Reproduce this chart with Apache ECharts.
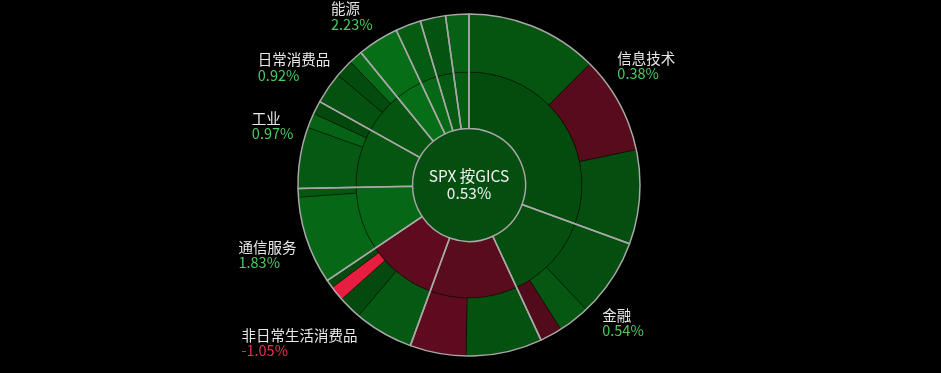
<!DOCTYPE html>
<html>
<head>
<meta charset="utf-8">
<script src="https://cdn.jsdelivr.net/npm/echarts@6/dist/echarts.min.js"></script>
<style>
  html, body { margin: 0; padding: 0; background: #000; }
  #chart { width: 941px; height: 373px; }
</style>
</head>
<body>
<div id="chart"></div>
<script>
// Index level
const indexName = 'SPX 按GICS';
const indexChange = 0.53;

// GICS sectors, clockwise from 12 o'clock, with daily change (%)
const sectorNames = ['信息技术', '金融', '医疗保健', '非日常生活消费品', '通信服务', '工业', '日常消费品', '能源', '公用事业', '房地产', '原材料'];
const sectorChanges = [0.38, 0.54, -0.95, -1.05, 1.83, 0.97, 0.92, 2.23, 1.9, 1.1, 1.2];

// Industry groups (outer ring): owning sector, name, index weight (%), daily change (%)
const groupSector = [0, 0, 0, 1, 1, 1, 2, 2, 3, 3, 3, 3, 4, 4, 5, 5, 5, 6, 6, 6, 7, 8, 9, 10];
const groupNames = [
  '软件与服务', '半导体产品与设备', '技术硬件与设备',
  '金融服务', '银行', '保险',
  '制药、生物科技和生命科学', '医疗保健设备与服务',
  '非日常消费品经销与零售', '消费者服务', '汽车与汽车零部件', '耐用消费品和服装',
  '媒体与娱乐', '电信服务',
  '资本品', '运输', '商业和专业服务',
  '食品、饮料与烟草', '家庭与个人用品', '日常消费品经销与零售',
  '能源', '公用事业', '房地产', '原材料'
];
const groupWeights = [12.5, 9.2, 8.9, 7.4, 3.0, 2.1, 7.2, 5.3, 5.6, 2.2, 1.4, 0.8, 8.3, 0.8, 5.8, 1.4, 1.25, 3.0, 1.7, 1.3, 3.9, 2.4, 2.4, 2.2];
const groupChanges = [0.9, -0.9, 0.5, 0.5, 1.0, -0.8, 0.7, -1.05, 1.1, 0.3, -4.0, 0.3, 1.9, 1.0, 1.1, 1.6, 0.25, 0.7, 0.35, 2.0, 2.2, 1.2, 0.8, 1.5];

// Layout
const CX = 469, CY = 185;
const R_CORE = 56.5, R_MID = 113, R_OUT = 171;
const LABEL_R = 181, LABEL_H = 31, LABEL_GAP = 20;
const FONT = "'Noto Sans CJK SC', 'Noto Sans', sans-serif";

// Heat scale: dark green -> bright green for gains, dark red -> bright red for losses
function changeColor(c) {
  const lerp = (a, b, t) => a.map((v, i) => Math.round(v + (b[i] - v) * t));
  const rgb = c >= 0
    ? lerp([3, 68, 12], [8, 125, 28], Math.min(c / 3, 1))
    : lerp([45, 6, 16], [232, 30, 64], Math.min(-c / 4, 1));
  return 'rgb(' + rgb.join(',') + ')';
}
const pct = c => c.toFixed(2) + '%';

const sectorWeights = sectorNames.map((_, s) =>
  groupWeights.reduce((acc, w, i) => acc + (groupSector[i] === s ? w : 0), 0));

// Outside labels: anchored at each sector's mid angle, pushed apart when stacked
function layoutLabels(height) {
  const total = sectorWeights.reduce((a, b) => a + b, 0);
  let acc = 0;
  const boxes = sectorWeights.map(w => {
    const a = (acc + w / 2) / total * 2 * Math.PI;
    acc += w;
    const b = {
      x: CX + LABEL_R * Math.sin(a),
      y: CY - LABEL_R * Math.cos(a),
      right: Math.sin(a) >= 0,
      upper: Math.cos(a) > 0
    };
    const top = b.upper ? b.y - LABEL_H : b.y;
    b.show = top >= -6 && top + LABEL_H <= height + 6;
    return b;
  });
  [true, false].forEach(right => {
    const ups = boxes.filter(b => b.show && b.upper && b.right === right).sort((p, q) => p.y - q.y);
    for (let i = 1; i < ups.length; i++) {
      const minY = ups[i - 1].y + LABEL_GAP + LABEL_H;
      if (ups[i].y < minY) ups[i].y = minY;
    }
    const downs = boxes.filter(b => b.show && !b.upper && b.right === right).sort((p, q) => q.y - p.y);
    for (let i = 1; i < downs.length; i++) {
      const maxY = downs[i - 1].y - LABEL_GAP - LABEL_H;
      if (downs[i].y > maxY) downs[i].y = maxY;
    }
  });
  return boxes;
}

const chart = echarts.init(document.getElementById('chart'), null, { renderer: 'canvas' });
const boxes = layoutLabels(chart.getHeight());

const sunData = [{
  name: indexName,
  itemStyle: { color: changeColor(indexChange) },
  children: sectorNames.map((name, s) => ({
    name: name,
    itemStyle: { color: changeColor(sectorChanges[s]) },
    children: groupNames
      .map((g, i) => i)
      .filter(i => groupSector[i] === s)
      .map(i => ({
        name: groupNames[i],
        value: groupWeights[i],
        itemStyle: { color: changeColor(groupChanges[i]) }
      }))
  }))
}];

const thinEdge = { borderColor: 'rgba(0,0,0,0.45)', borderWidth: 0.8 };
const textBase = { fontFamily: FONT, fontSize: 14.5, lineHeight: 15.5, align: 'left' };

chart.setOption({
  backgroundColor: '#000',
  animation: false,
  series: [
    {
      type: 'sunburst',
      center: [CX, CY],
      radius: [0, R_OUT],
      sort: null,
      nodeClick: false,
      startAngle: 90,
      clockwise: true,
      emphasis: { focus: 'none' },
      data: sunData,
      levels: [
        {},
        {
          r0: 0, r: R_CORE,
          itemStyle: { borderWidth: 0 },
          label: {
            show: true, rotate: 0, color: '#f2f2f2',
            fontFamily: FONT, fontSize: 15.5, lineHeight: 17,
            formatter: p => p.name + '\n' + pct(indexChange)
          }
        },
        { r0: R_CORE, r: R_MID, itemStyle: thinEdge, label: { show: false } },
        { r0: R_MID, r: R_OUT, itemStyle: thinEdge, label: { show: false } }
      ]
    },
    {
      // sector outlines and outside labels
      type: 'pie',
      center: [CX, CY],
      radius: [R_CORE, R_OUT],
      startAngle: 90,
      clockwise: true,
      silent: true,
      avoidLabelOverlap: false,
      itemStyle: { color: 'rgba(0,0,0,0)', borderColor: '#a8a8a8', borderWidth: 1.5 },
      label: {
        position: 'outside',
        formatter: p => '{n|' + p.name + '}\n{' + (sectorChanges[p.dataIndex] >= 0 ? 'up' : 'dn') + '|' + pct(sectorChanges[p.dataIndex]) + '}',
        rich: {
          n: Object.assign({ color: '#e8e8e8' }, textBase),
          up: Object.assign({ color: '#4ccb5f' }, textBase),
          dn: Object.assign({ color: '#e4344f' }, textBase)
        }
      },
      labelLine: { show: false },
      labelLayout: p => {
        const b = boxes[p.dataIndex];
        return { x: b.x, y: b.y, align: b.right ? 'left' : 'right', verticalAlign: b.upper ? 'bottom' : 'top' };
      },
      data: sectorNames.map((name, s) => ({
        name: name,
        value: sectorWeights[s],
        label: { show: boxes[s].show }
      }))
    }
  ]
});
</script>
</body>
</html>
